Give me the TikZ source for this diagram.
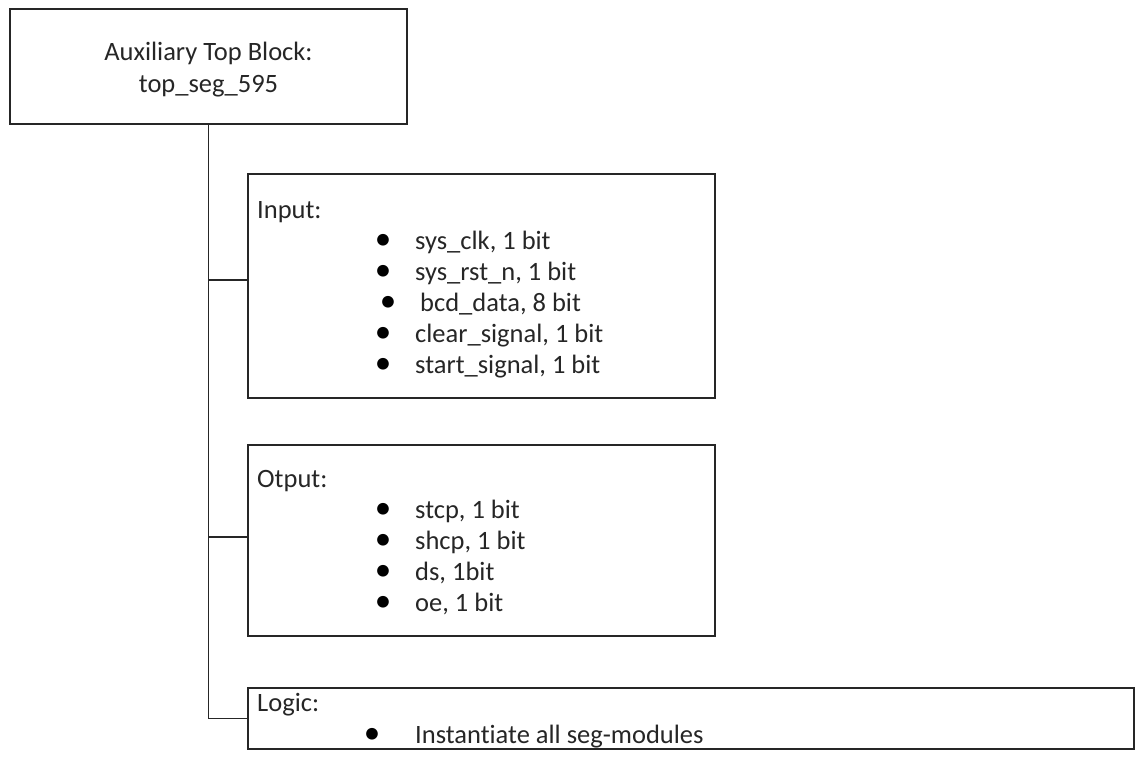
\documentclass[tikz,border=0pt]{standalone}
\usepackage{fontspec}
\setmainfont[Ligatures={NoCommon,NoDiscretionary}]{Carlito}
\begin{document}
\begin{tikzpicture}[x=1pt,y=-1pt,
  box/.style={draw=black!85, line width=1.4pt, inner sep=0pt},
  conn/.style={draw=black!85, line width=1.4pt},
  txt/.style={anchor=base west, inner sep=0pt, font=\fontsize{26.5}{31}\selectfont, text=black!85},
  ctxt/.style={anchor=base, inner sep=0pt, font=\fontsize{26.5}{31}\selectfont, text=black!85},
  bul/.style={anchor=base, inner sep=0pt, font=\fontsize{33}{31}\selectfont, text=black}]
\useasboundingbox (0,0) rectangle (1148,766);
% boxes
\node[box, minimum width=397pt, minimum height=115pt] (top) at (208.5,66.5) {};
\node[box, minimum width=467pt, minimum height=224pt] (inp) at (481.5,286) {};
\node[box, minimum width=467pt, minimum height=191pt] (otp) at (481.5,540.5) {};
\node[box, minimum width=886pt, minimum height=61pt] (lgc) at (691,718.5) {};
% top text
\node[ctxt] (t1) at (208.5,60) {Auxiliary Top Block:};
\node[ctxt] (t2) at (208.5,92) {top\_seg\_595};
% input
\node[txt] (il) at (257,218) {Input:};
\node[bul] (ib1) at (383,249) {•};
\node[txt] (i1) at (415,249) {sys\_clk, 1 bit};
\node[bul] (ib2) at (383,280) {•};
\node[txt] (i2) at (415,280) {sys\_rst\_n, 1 bit};
\node[bul] (ib3) at (388,311) {•};
\node[txt] (i3) at (420,311) {bcd\_data, 8 bit};
\node[bul] (ib4) at (383,342) {•};
\node[txt] (i4) at (415,342) {clear\_signal, 1 bit};
\node[bul] (ib5) at (383,373) {•};
\node[txt] (i5) at (415,373) {start\_signal, 1 bit};
% output
\node[txt] (ol) at (257,487) {Otput:};
\node[bul] (ob1) at (383,518) {•};
\node[txt] (o1) at (415,518) {stcp, 1 bit};
\node[bul] (ob2) at (383,549) {•};
\node[txt] (o2) at (415,549) {shcp, 1 bit};
\node[bul] (ob3) at (383,580) {•};
\node[txt] (o3) at (415,580) {ds, 1bit};
\node[bul] (ob4) at (383,611) {•};
\node[txt] (o4) at (415,611) {oe, 1 bit};
% logic
\node[txt] (ll) at (257,711) {Logic:};
\node[bul] (lb1) at (372,743) {•};
\node[txt] (l1) at (415,743) {Instantiate all seg-modules};
% connectors
\coordinate (j1) at (208.5,280);
\coordinate (j2) at (208.5,537);
\draw[conn] (top.south) |- (lgc.west);
\draw[conn] (j1) -- (j1 -| inp.west);
\draw[conn] (j2) -- (j2 -| otp.west);
\end{tikzpicture}
\end{document}
